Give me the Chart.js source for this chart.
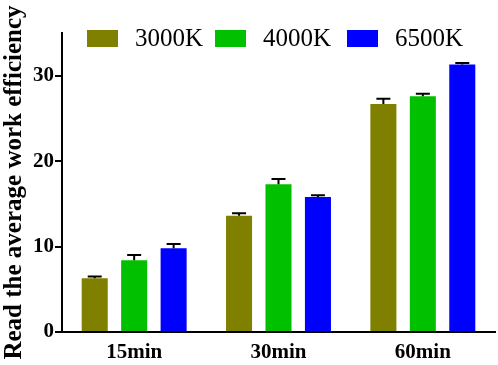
<!DOCTYPE html>
<html>
<head>
<meta charset="utf-8">
<script src="https://cdn.jsdelivr.net/npm/chart.js@4.4.1/dist/chart.umd.min.js"></script>
<style>
  html, body { margin: 0; padding: 0; background: #fff; }
  #wrap { width: 498px; height: 365px; }
</style>
</head>
<body>
<div id="wrap"><canvas id="myChart" width="498" height="365"></canvas></div>
<script>
const categories = ["15min", "30min", "60min"];
const seriesNames = ["3000K", "4000K", "6500K"];
const means3000 = [6.3, 13.6, 26.7];
const means4000 = [8.4, 17.3, 27.6];
const means6500 = [9.8, 15.8, 31.3];
const err3000 = [0.2, 0.3, 0.6];
const err4000 = [0.6, 0.6, 0.3];
const err6500 = [0.5, 0.2, 0.2];
const yTicks = [0, 10, 20, 30];
const barColors = ["#808000", "#00c000", "#0000ff"];

const serif = "'Liberation Serif', 'Times New Roman', serif";

// upward-only error bars (T caps)
const errorBars = {
  id: "errorBars",
  afterDatasetsDraw(chart) {
    const ctx = chart.ctx;
    const y = chart.scales.y;
    chart.data.datasets.forEach((ds, i) => {
      const meta = chart.getDatasetMeta(i);
      meta.data.forEach((bar, j) => {
        const top = y.getPixelForValue(ds.data[j] + ds.errors[j]);
        ctx.save();
        ctx.strokeStyle = "#000";
        ctx.lineWidth = 2;
        ctx.beginPath();
        ctx.moveTo(bar.x, bar.y);
        ctx.lineTo(bar.x, top);
        ctx.moveTo(bar.x - 7, top);
        ctx.lineTo(bar.x + 7, top);
        ctx.stroke();
        ctx.restore();
      });
    });
  },
};

// legend drawn inside the plot top area
const topLegend = {
  id: "topLegend",
  afterDraw(chart) {
    const ctx = chart.ctx;
    const starts = [87, 215, 347];
    ctx.save();
    ctx.font = "25px " + serif;
    ctx.textBaseline = "middle";
    chart.data.datasets.forEach((ds, i) => {
      ctx.fillStyle = ds.backgroundColor;
      ctx.fillRect(starts[i], 30, 31, 17);
      ctx.fillStyle = "#000";
      ctx.fillText(ds.label, starts[i] + 48, 39);
    });
    ctx.restore();
  },
};

function makeSet(label, data, errors, color) {
  return { label: label, data: data, errors: errors, backgroundColor: color, borderWidth: 0 };
}

new Chart(document.getElementById("myChart"), {
  type: "bar",
  data: {
    labels: categories,
    datasets: [
      makeSet(seriesNames[0], means3000, err3000, barColors[0]),
      makeSet(seriesNames[1], means4000, err4000, barColors[1]),
      makeSet(seriesNames[2], means6500, err6500, barColors[2]),
    ],
  },
  options: {
    responsive: false,
    animation: false,
    devicePixelRatio: 1,
    layout: { padding: { top: 33, right: 3, left: 0, bottom: 0 } },
    datasets: { bar: { categoryPercentage: 0.82, barPercentage: 0.66 } },
    plugins: { legend: { display: false }, tooltip: { enabled: false } },
    scales: {
      x: {
        grid: { display: false, drawTicks: false },
        border: { color: "#000", width: 2 },
        ticks: { color: "#000", font: { family: serif, size: 21, weight: "bold" }, padding: 8 },
        afterFit(scale) { scale.height = 33; },
      },
      y: {
        min: 0,
        max: 35,
        grid: { drawOnChartArea: false, color: "#000", lineWidth: 2, tickLength: 7 },
        border: { color: "#000", width: 2 },
        ticks: { color: "#000", font: { family: serif, size: 21, weight: "bold" }, padding: 1, stepSize: 10 },
        afterBuildTicks(scale) { scale.ticks = yTicks.map((v) => ({ value: v })); },
        afterFit(scale) { scale.width = 62; },
        title: {
          display: true,
          text: "Read the average work efficiency",
          color: "#000",
          font: { family: serif, size: 25, weight: "bold" },
          padding: 0,
        },
      },
    },
  },
  plugins: [errorBars, topLegend],
});
</script>
</body>
</html>
